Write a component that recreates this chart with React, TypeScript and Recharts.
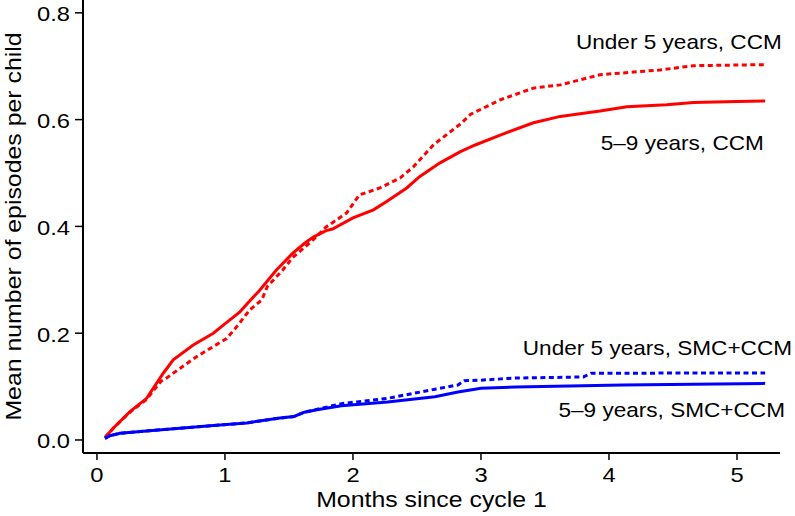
import React from 'react';
import { LineChart, Line, XAxis, YAxis, ReferenceDot } from 'recharts';

// [months since cycle 1, mean number of episodes per child]
const ccm5to9: [number, number][] = [
  [0.065, 0.005], [0.127, 0.022], [0.258, 0.053], [0.388, 0.078], [0.518, 0.125],
  [0.596, 0.15], [0.752, 0.178], [0.909, 0.2], [0.987, 0.215], [1.117, 0.24],
  [1.2, 0.262], [1.27, 0.28], [1.4, 0.318], [1.53, 0.35], [1.62, 0.368],
  [1.69, 0.38], [1.79, 0.392], [1.84, 0.395], [2.0, 0.416], [2.16, 0.431],
  [2.26, 0.446], [2.42, 0.472], [2.52, 0.493], [2.68, 0.519], [2.84, 0.54],
  [2.95, 0.552], [3.15, 0.571], [3.41, 0.594], [3.62, 0.606], [3.93, 0.616],
  [4.14, 0.624], [4.45, 0.628], [4.66, 0.632], [5.0, 0.634], [5.22, 0.635],
];

const ccmUnder5: [number, number][] = [
  [0.065, 0.005], [0.127, 0.022], [0.258, 0.052], [0.388, 0.076], [0.5, 0.11],
  [0.544, 0.116], [0.648, 0.134], [0.778, 0.156], [0.909, 0.175], [1.013, 0.19],
  [1.091, 0.212], [1.195, 0.244], [1.287, 0.262], [1.33, 0.287], [1.45, 0.318],
  [1.53, 0.342], [1.69, 0.375], [1.79, 0.399], [1.84, 0.407], [1.95, 0.425],
  [2.05, 0.459], [2.21, 0.472], [2.37, 0.491], [2.47, 0.511], [2.63, 0.553],
  [2.84, 0.592], [2.92, 0.61], [3.15, 0.637], [3.41, 0.659], [3.62, 0.665],
  [3.93, 0.684], [4.19, 0.689], [4.4, 0.693], [4.66, 0.701], [5.22, 0.703],
];

const smc5to9: [number, number][] = [
  [0.0625, 0.003], [0.1, 0.008], [0.18, 0.0125], [0.388, 0.017], [0.648, 0.022],
  [0.909, 0.027], [1.17, 0.032], [1.43, 0.041], [1.54, 0.044], [1.62, 0.052],
  [1.73, 0.057], [1.91, 0.064], [2.27, 0.071], [2.64, 0.081], [2.82, 0.09],
  [3.0, 0.097], [3.27, 0.099], [4.11, 0.103], [5.22, 0.106],
];

const smcUnder5: [number, number][] = [
  [0.0625, 0.003], [0.1, 0.008], [0.18, 0.0125], [0.388, 0.017], [0.648, 0.022],
  [0.909, 0.027], [1.17, 0.032], [1.43, 0.041], [1.54, 0.044], [1.62, 0.052],
  [1.73, 0.058], [1.91, 0.068], [2.27, 0.078], [2.64, 0.095], [2.82, 0.103],
  [2.87, 0.111], [3.0, 0.112], [3.27, 0.116], [3.8, 0.118], [3.86, 0.125],
  [5.22, 0.1255],
];

const xTicks = [0, 1, 2, 3, 4, 5];
const yTicks = [0, 0.2, 0.4, 0.6, 0.8];

const xLabel = 'Months since cycle 1';
const yLabel = 'Mean number of episodes per child';

const annotationTexts = [
  'Under 5 years, CCM',
  '5\u20139 years, CCM',
  'Under 5 years, SMC+CCM',
  '5\u20139 years, SMC+CCM',
];
// anchor (right end, vertical centre) of each annotation, in data units
const annotationAnchors: [number, number][] = [
  [5.35, 0.746],
  [5.21, 0.556],
  [5.43, 0.172],
  [5.375, 0.056],
];

const FONT = '"Liberation Sans", Arial, Helvetica, sans-serif';
const RED = '#ff0000';
const BLUE = '#0000ff';
const STRETCH = 1.13;

const toRows = (pts: [number, number][]) => pts.map(([t, v]) => ({ t, v }));

const series = [
  { name: '5-9 years, CCM', pts: ccm5to9, color: RED, dash: undefined },
  { name: 'Under 5 years, CCM', pts: ccmUnder5, color: RED, dash: '5 3.5' },
  { name: '5-9 years, SMC+CCM', pts: smc5to9, color: BLUE, dash: undefined },
  { name: 'Under 5 years, SMC+CCM', pts: smcUnder5, color: BLUE, dash: '5 3.5' },
];

function WideText(props: {
  x: number;
  y: number;
  anchor: 'start' | 'middle' | 'end';
  size: number;
  rotate?: number;
  children: React.ReactNode;
}) {
  const { x, y, anchor, size, rotate = 0, children } = props;
  return (
    <text
      transform={`translate(${x},${y}) rotate(${rotate}) scale(${STRETCH},1)`}
      x={0}
      y={0}
      textAnchor={anchor}
      fontSize={size}
      fontFamily={FONT}
      fill="#000"
    >
      {children}
    </text>
  );
}

const XTick = (props: any) => {
  const { x, y, payload } = props;
  return (
    <WideText x={x} y={y + 15} anchor="middle" size={21}>
      {String(payload.value)}
    </WideText>
  );
};

const YTick = (props: any) => {
  const { x, y, payload } = props;
  return (
    <WideText x={x} y={y + 8.5} anchor="end" size={21}>
      {Number(payload.value).toFixed(1)}
    </WideText>
  );
};

export default function App() {
  return (
    <div style={{ position: 'absolute', left: 0, top: 0, background: '#fff' }}>
      <LineChart
        width={795}
        height={516}
        margin={{ top: 0, right: 15, bottom: 0, left: 0 }}
      >
        <XAxis
          type="number"
          dataKey="t"
          domain={[-0.109, 5.336]}
          allowDataOverflow
          ticks={xTicks}
          interval={0}
          height={63}
          tickSize={7}
          tickMargin={7}
          axisLine={{ stroke: '#000', strokeWidth: 2 }}
          tickLine={{ stroke: '#000', strokeWidth: 1.5 }}
          tick={XTick}
          label={{
            content: (props: any) => {
              const vb = props.viewBox || {};
              return (
                <WideText x={vb.x + vb.width / 2} y={vb.y + 54} anchor="middle" size={22}>
                  {xLabel}
                </WideText>
              );
            },
          }}
        />
        <YAxis
          type="number"
          domain={[-0.0244, 0.824]}
          allowDataOverflow
          ticks={yTicks}
          interval={0}
          width={83}
          tickSize={8}
          tickMargin={5}
          axisLine={{ stroke: '#000', strokeWidth: 2 }}
          tickLine={{ stroke: '#000', strokeWidth: 1.5 }}
          tick={YTick}
          label={{
            content: (props: any) => {
              const vb = props.viewBox || {};
              return (
                <WideText
                  x={vb.x + 21}
                  y={vb.y + vb.height / 2}
                  anchor="middle"
                  size={22}
                  rotate={-90}
                >
                  {yLabel}
                </WideText>
              );
            },
          }}
        />
        {series.map((s) => (
          <Line
            key={s.name}
            name={s.name}
            data={toRows(s.pts)}
            dataKey="v"
            type="linear"
            stroke={s.color}
            strokeWidth={3}
            strokeDasharray={s.dash}
            dot={false}
            activeDot={false}
            isAnimationActive={false}
          />
        ))}
        {annotationTexts.map((txt, i) => (
          <ReferenceDot
            key={txt}
            x={annotationAnchors[i][0]}
            y={annotationAnchors[i][1]}
            r={0}
            fill="none"
            stroke="none"
            ifOverflow="visible"
            label={{
              content: (props: any) => {
                const vb = props.viewBox || {};
                const x = vb.cx !== undefined ? vb.cx : vb.x + (vb.width || 0) / 2;
                const y = vb.cy !== undefined ? vb.cy : vb.y + (vb.height || 0) / 2;
                return (
                  <WideText x={x} y={y + 7.2} anchor="end" size={20}>
                    {txt}
                  </WideText>
                );
              },
            }}
          />
        ))}
      </LineChart>
    </div>
  );
}
